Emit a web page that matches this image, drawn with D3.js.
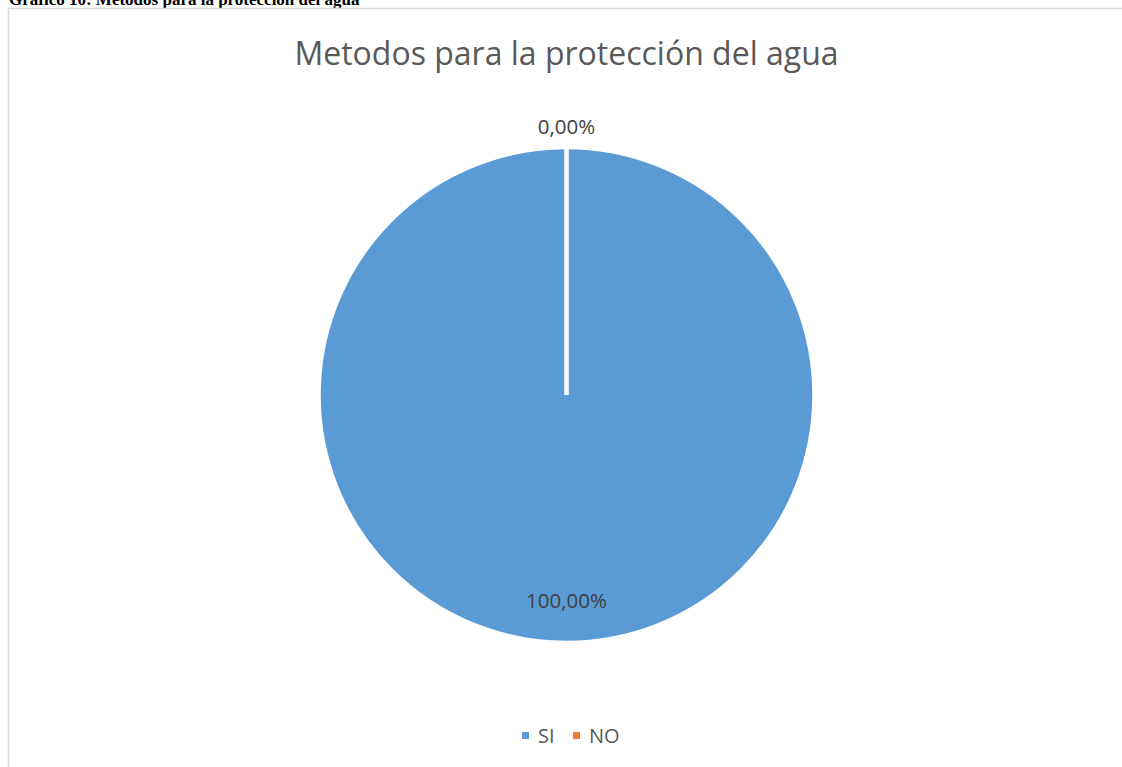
<!DOCTYPE html>
<html>
<head>
<meta charset="utf-8">
<script src="https://cdn.jsdelivr.net/npm/d3@7"></script>
<style>
  html, body { margin: 0; padding: 0; background: #fff; overflow: hidden; }
  svg { display: block; }
</style>
</head>
<body>
<svg id="chart" width="1122" height="767"></svg>
<script>
// Data
const categories = ["SI", "NO"];
const values = [100, 0];
const labels = ["100,00%", "0,00%"];
const colors = ["#5B9BD5", "#ED7D31"];
const chartTitle = "Metodos para la protección del agua";
const caption = "Gráfico 10: Métodos para la protección del agua";

const svg = d3.select("#chart");
const W = 1122, H = 767;

// caption (cut at top, as in the reference)
svg.append("text")
  .attr("x", 9).attr("y", 5)
  .attr("font-family", "'Liberation Serif', 'Times New Roman', serif")
  .attr("font-weight", "bold")
  .attr("font-size", 17)
  .attr("fill", "#000")
  .text(caption);

// chart border
svg.append("rect")
  .attr("x", 8.5).attr("y", 8.5)
  .attr("width", W + 20).attr("height", H + 20)
  .attr("fill", "#fff")
  .attr("stroke", "#d9d9d9")
  .attr("stroke-width", 1.5);

// title
svg.append("text")
  .attr("x", 566.5).attr("y", 65)
  .attr("text-anchor", "middle")
  .attr("font-family", "'Open Sans', sans-serif")
  .attr("font-size", 32)
  .attr("fill", "#595959")
  .text(chartTitle);

const cx = 566.5, cy = 395, r = 248;
const g = svg.append("g").attr("transform", `translate(${cx},${cy})`);

const pie = d3.pie().sort(null).value(d => d.value);
const data = categories.map((c, i) => ({ cat: c, value: values[i], label: labels[i], color: colors[i] }));
const arcs = pie(data);
const arc = d3.arc().innerRadius(0).outerRadius(r);

g.selectAll("path.slice")
  .data(arcs)
  .enter().append("path")
  .attr("class", "slice")
  .attr("d", arc)
  .attr("fill", d => d.data.color)
  .attr("stroke", "#fff")
  .attr("stroke-width", 4.5)
  .attr("stroke-linejoin", "miter");

// data labels
const labelFont = "'Open Sans', sans-serif";
arcs.forEach(d => {
  let x, y;
  if (d.data.value === 0) {
    const a = d.startAngle;
    x = Math.sin(a) * (r + 20);
    y = -Math.cos(a) * (r + 20);
  } else {
    const a = (d.startAngle + d.endAngle) / 2;
    x = Math.sin(a) * (r * 0.83);
    y = -Math.cos(a) * (r * 0.83);
  }
  g.append("text").attr("x", x).attr("y", y + 7)
    .attr("text-anchor", "middle")
    .attr("font-family", labelFont).attr("font-size", 20.5)
    .attr("fill", "#404040").text(d.data.label);
});

// legend
const legend = svg.append("g");
const legendX = [522, 573];
categories.forEach((c, i) => {
  const lx = legendX[i];
  legend.append("rect").attr("x", lx).attr("y", 732).attr("width", 7).attr("height", 7).attr("fill", colors[i]);
  legend.append("text").attr("x", lx + 16).attr("y", 743)
    .attr("font-family", labelFont).attr("font-size", 20).attr("fill", "#595959").text(c);
});
</script>
</body>
</html>
